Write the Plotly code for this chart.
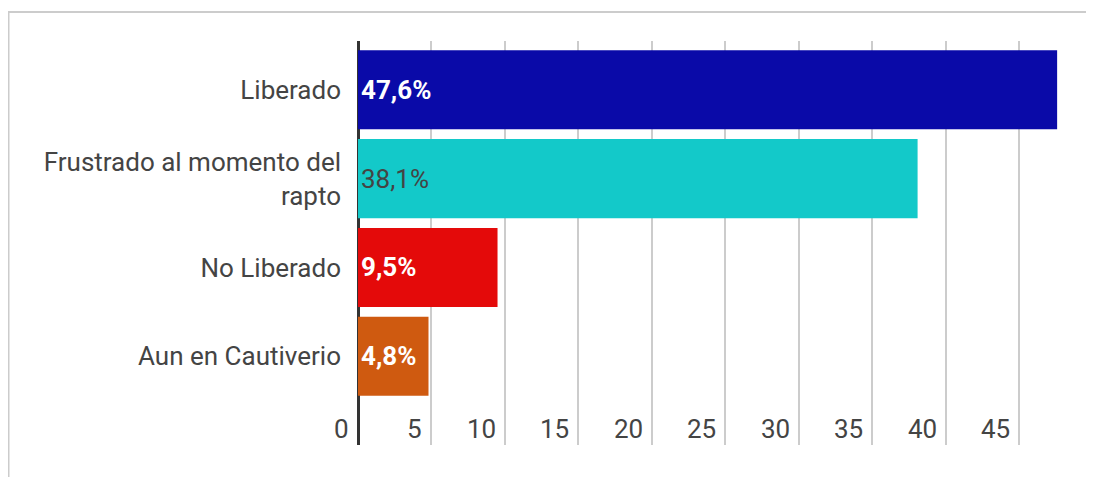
import plotly.graph_objects as go

categories = ["Liberado", "Frustrado al momento del<br>rapto", "No Liberado", "Aun en Cautiverio"]
values = [47.6, 38.1, 9.5, 4.8]
labels = ["<b>47,6%</b>", "38,1%", "<b>9,5%</b>", "<b>4,8%</b>"]
colors = ["#0a0aa8", "#13c9c9", "#e40a0a", "#cf5a10"]
text_colors = ["#ffffff", "#444444", "#ffffff", "#ffffff"]
tick_vals = [0, 5, 10, 15, 20, 25, 30, 35, 40, 45]

FONT = "Roboto"
FS = 26

fig = go.Figure(go.Bar(
    x=values,
    y=list(range(len(categories))),
    orientation="h",
    marker=dict(color=colors, line=dict(width=0)),
    text=labels,
    textposition="inside",
    insidetextanchor="start",
    textfont=dict(family=FONT, size=FS, color=text_colors),
    hoverinfo="skip",
))

# x tick labels drawn to the left of each gridline, inside the plot bottom
for v in tick_vals:
    fig.add_annotation(
        x=v, y=0, xref="x", yref="paper",
        text=str(v), showarrow=False,
        xanchor="right", yanchor="middle",
        xshift=-7, yshift=16,
        font=dict(family=FONT, size=FS, color="#444444"),
    )

fig.update_layout(
    width=1086, height=469,
    margin=dict(l=350, r=31, t=33, b=32),
    paper_bgcolor="white", plot_bgcolor="white",
    bargap=0.11,
    showlegend=False,
    font=dict(family=FONT, size=FS, color="#444444"),
    xaxis=dict(
        range=[0, 48],
        tickvals=tick_vals,
        showticklabels=False,
        showgrid=True, gridcolor="#cccccc", gridwidth=2,
        zeroline=True, zerolinecolor="#333333", zerolinewidth=3,
        showline=False,
        ticks="",
    ),
    yaxis=dict(
        range=[4.0, -0.55],
        tickvals=list(range(len(categories))),
        ticktext=categories,
        showgrid=False, zeroline=False, showline=False,
        ticks="",
        ticklabelstandoff=16,
        tickfont=dict(family=FONT, size=FS, color="#444444"),
    ),
    shapes=[dict(
        type="rect", xref="paper", yref="paper",
        x0=(0.5 - 350) / 705, x1=1.2,
        y0=-0.3, y1=1 + (33 - 4) / 404,
        line=dict(color="#cccccc", width=2),
        fillcolor="rgba(0,0,0,0)", layer="below",
    )],
)

fig.write_html("out.html")
